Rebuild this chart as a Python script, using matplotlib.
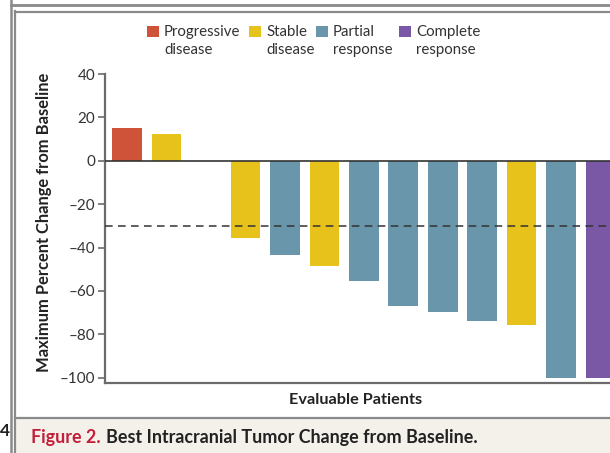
import matplotlib
matplotlib.use("Agg")
import matplotlib.pyplot as plt
from matplotlib.patches import Rectangle
from matplotlib.lines import Line2D

plt.rcParams['font.family'] = ['Lato', 'DejaVu Sans']

# best intracranial change per evaluable patient (percent)
patients = list(range(13))
change = [15.2, 12.4, 0.0, -35.4, -43.2, -48.3, -55.5, -66.7, -69.6, -73.9, -75.7, -100.0, -100.0]
response = ['PD', 'SD', 'SD', 'SD', 'PR', 'SD', 'PR', 'PR', 'PR', 'PR', 'SD', 'PR', 'CR']

categories = ['PD', 'SD', 'PR', 'CR']
category_labels = ['Progressive\ndisease', 'Stable\ndisease', 'Partial\nresponse', 'Complete\nresponse']
category_colors = {'PD': '#cf5338', 'SD': '#e7c21b', 'PR': '#6a96ab', 'CR': '#7a58a6'}

y_ticks = [40, 20, 0, -20, -40, -60, -80, -100]
threshold = -30

W, H = 610, 453
fig = plt.figure(figsize=(W / 100, H / 100), dpi=100)


def px(x, y):
    # pixel position (top-left origin) -> figure fraction
    return x / W, 1 - y / H


# page frame and caption band
fig.add_artist(Rectangle((15 / W, 0), (W - 15) / W, (H - 418) / H,
                         transform=fig.transFigure, facecolor='#f4f0ea', edgecolor='none', zorder=0))
frame = '#8a8a8a'
for xs, ys, lw in [([11, 11], [0, H], 1.8), ([15, 15], [11, H], 1.6),
                   ([11, W], [5, 5], 2.0), ([15, W], [11.5, 11.5], 1.6),
                   ([15, W], [418, 418], 1.6)]:
    fig.add_artist(Line2D([x / W for x in xs], [1 - y / H for y in ys],
                          transform=fig.transFigure, color=frame, lw=lw))
fig.text(*px(0, 431), '4', fontsize=12.5, fontweight='bold', va='center', ha='left', color='#222222')

# plot area
left, right = 105, 612
top, bottom = 74, 383
ax = fig.add_axes([left / W, 1 - bottom / H, (right - left) / W, (bottom - top) / H])

colors = [category_colors[r] for r in response]
ax.bar(patients, change, width=0.75, color=colors, zorder=2)
ax.axhline(0, color='#333333', lw=1.2, zorder=3)
ax.axhline(threshold, color='#333333', lw=1.1, ls=(0, (5, 3.5)), zorder=3)

ax.set_xlim(-0.56, 12.29)
ax.set_ylim(-102.4, 40)
ax.set_yticks(y_ticks)
ax.set_yticklabels([str(t).replace('-', '\u2013') for t in y_ticks], fontsize=11, color='#333333')
ax.set_xticks([])
for side in ['top', 'right']:
    ax.spines[side].set_visible(False)
for side in ['left', 'bottom']:
    ax.spines[side].set_color('#6b6b6b')
    ax.spines[side].set_linewidth(1.6)
ax.tick_params(axis='y', length=5, width=1.2, color='#6b6b6b', pad=2)

fig.text(*px(44, 222), 'Maximum Percent Change from Baseline', rotation=90,
         fontsize=11.9, fontweight='bold', ha='center', va='center', color='#222222')
fig.text(*px(356, 400), 'Evaluable Patients', fontsize=11.7, fontweight='bold',
         ha='center', va='center', color='#222222')

# legend drawn by hand: swatch plus two-line label
swatch_x = [147, 249, 316, 399]
for cat, label, sx in zip(categories, category_labels, swatch_x):
    fig.add_artist(Rectangle(px(sx, 37), 12 / W, 11 / H, transform=fig.transFigure,
                             facecolor=category_colors[cat], edgecolor='none'))
    fig.text(*px(sx + 17, 41), label, fontsize=10.8, ha='left', va='center',
             color='#333333', linespacing=1.38)

# caption
cap = fig.text(*px(31, 438), 'Figure 2.', fontsize=12.9, fontweight='bold',
               color='#c41f3a', ha='left', va='center')
fig.canvas.draw()
bb = cap.get_window_extent()
fig.text(bb.x1 / W + 5 / W, px(0, 438)[1], 'Best Intracranial Tumor Change from Baseline.',
         fontsize=12.9, fontweight='bold', color='#222222', ha='left', va='center')

fig.savefig('out.png', dpi=100)
